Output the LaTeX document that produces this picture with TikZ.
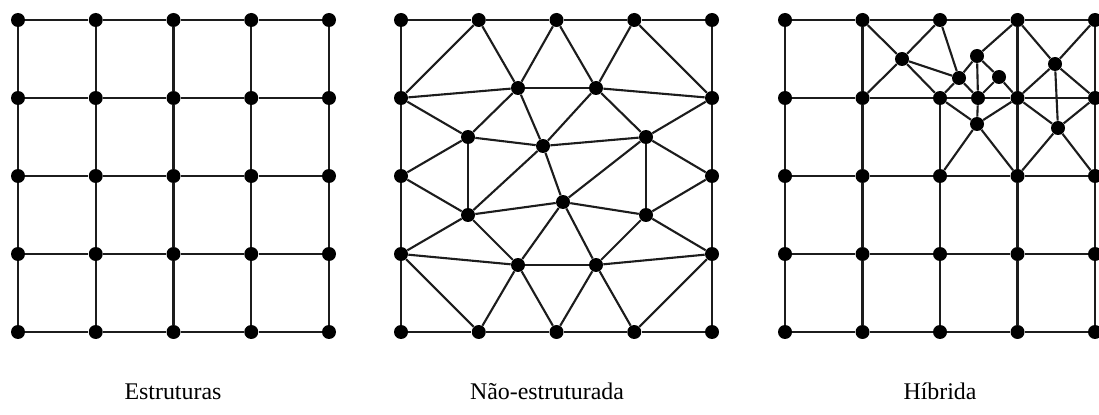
\documentclass[tikz,border=0pt]{standalone}
\usepackage{fontspec}
\setmainfont{Liberation Serif}
\usetikzlibrary{positioning}
\definecolor{meshLine}{RGB}{28,28,28}
\definecolor{meshDot}{RGB}{0,0,0}

\begin{document}
\begin{tikzpicture}[x=0.02cm, y=-0.02cm,
  dot/.style={circle, fill=meshDot, inner sep=0pt, minimum size=0.28cm},
  edge/.style={meshLine, line width=1.2pt},
  caption/.style={font=\fontsize{13.6}{16}\selectfont, anchor=base}]
\useasboundingbox (0,0) rectangle (1099,415);

% malha estruturada
\foreach \i in {0,...,4}
  \foreach \j in {0,...,4}
    \node[dot] (s\i\j) at ({18+77.75*\i},{20+78*\j}) {};
\foreach \i in {0,...,4}
  \foreach \j/\k in {0/1,1/2,2/3,3/4} {
    \draw[edge] (s\i\j) -- (s\i\k);
    \draw[edge] (s\j\i) -- (s\k\i);
  }

% malha nao-estruturada
\foreach \i/\j in {0/0,1/0,2/0,3/0,4/0,0/1,4/1,0/2,4/2,0/3,4/3,0/4,1/4,2/4,3/4,4/4}
  \node[dot] (u\i\j) at ({401+77.75*\i},{20+78*\j}) {};
\node[dot] (ua) at (518,88) {};
\node[dot] (ub) at (596,88) {};
\node[dot] (uc) at (468,137) {};
\node[dot] (ud) at (543,146) {};
\node[dot] (ue) at (646,137) {};
\node[dot] (uf) at (563,202) {};
\node[dot] (ug) at (468,215) {};
\node[dot] (uh) at (646,215) {};
\node[dot] (ui) at (518,265) {};
\node[dot] (uj) at (596,265) {};
\foreach \a/\b in {u00/u10,u10/u20,u20/u30,u30/u40,u04/u14,u14/u24,u24/u34,u34/u44,
    u00/u01,u01/u02,u02/u03,u03/u04,u40/u41,u41/u42,u42/u43,u43/u44,
    u10/u01,u10/ua,u20/ua,u20/ub,u30/ub,u30/u41,
    u01/ua,u01/uc,ua/ub,ua/ud,ua/uc,ub/ud,ub/ue,ub/u41,
    u41/ue,ue/u42,ue/uh,ue/ud,ue/uf,
    uc/ud,uc/ug,uc/u02,ud/ug,ud/uf,
    u02/ug,ug/uf,ug/u03,ug/ui,uf/ui,uf/uj,uf/uh,
    uh/u42,uh/u43,uh/uj,
    ui/uj,ui/u03,ui/u14,ui/u24,u03/u14,
    uj/u24,uj/u34,uj/u43,u43/u34}
  \draw[edge] (\a) -- (\b);

% malha hibrida
\foreach \i in {0,...,4}
  \foreach \j in {0,...,4}
    \node[dot] (h\i\j) at ({785+77.5*\i},{20+78*\j}) {};
\node[dot] (ha) at (902,59) {};
\node[dot] (hb) at (977,56) {};
\node[dot] (hc) at (959,78) {};
\node[dot] (hd) at (999,77) {};
\node[dot] (he) at (978,98) {};
\node[dot] (hf) at (977,124) {};
\node[dot] (hg) at (1055,64) {};
\node[dot] (hh) at (1058,128) {};
\foreach \i in {0,2,3,4}
  \foreach \a/\b in {0/1,1/2,2/3,3/4}
    \draw[edge] (h\a\i) -- (h\b\i);
\foreach \i in {0,1,3,4}
  \foreach \a/\b in {0/1,1/2,2/3,3/4}
    \draw[edge] (h\i\a) -- (h\i\b);
\foreach \a/\b in {h01/h11,h11/h21,h21/he,he/h31,h31/h41,
    h21/h22,h22/h23,h23/h24,
    ha/h10,ha/h11,ha/h20,ha/h21,ha/hc,h20/hc,
    hb/hc,hb/h30,hb/he,hb/hd,hc/he,hc/h21,hd/he,hd/h31,he/hf,
    hf/h21,hf/h31,hf/h22,hf/h32,
    hg/h30,hg/h40,hg/h31,hg/h41,hg/hh,
    hh/h31,hh/h41,hh/h32,hh/h42}
  \draw[edge] (\a) -- (\b);

% legendas
\node[caption] (capS) at (173,399) {Estruturas};
\node[caption] (capU) at (547,399) {Não-estruturada};
\node[caption] (capH) at (940,399) {Híbrida};
\end{tikzpicture}
\end{document}
